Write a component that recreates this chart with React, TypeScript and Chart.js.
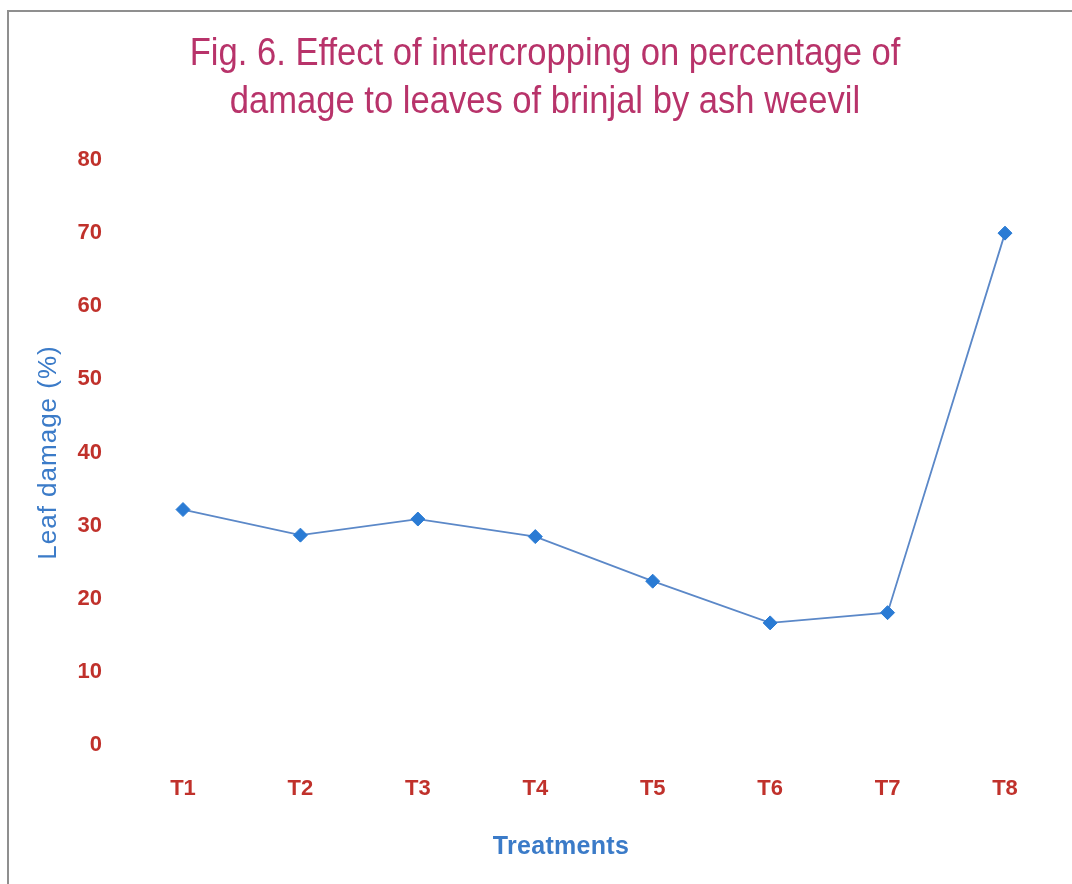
import React, { useEffect, useRef } from 'react';
import { Chart, registerables } from 'chart.js';

Chart.register(...registerables);

// Treatments and mean leaf damage (%) caused by ash weevil
const treatments = ['T1', 'T2', 'T3', 'T4', 'T5', 'T6', 'T7', 'T8'];
const leafDamage = [32.2, 28.7, 30.9, 28.5, 22.4, 16.7, 18.1, 70.0];

// Value axis range
const yMin = 0;
const yMax = 80;
const yStep = 10;

const titleLines = [
  'Fig. 6. Effect of intercropping on percentage of',
  'damage to leaves of brinjal by ash weevil',
];
const xAxisTitle = 'Treatments';
const yAxisTitle = 'Leaf damage (%)';

const WIDTH = 1072;
const HEIGHT = 884;

const TITLE_COLOR = '#b8336a';
const TICK_COLOR = '#c0312b';
const AXIS_TITLE_COLOR = '#3b7bc8';
const LINE_COLOR = '#5b88c8';
const MARKER_COLOR = '#2a7bd4';
const FONT = '"Liberation Sans", Arial, Helvetica, sans-serif';

// Draws the figure caption and the two axis captions on the canvas
const captionPlugin = {
  id: 'captions',
  afterDraw(chart: any) {
    const { ctx, chartArea } = chart;
    ctx.save();
    ctx.textAlign = 'center';
    ctx.textBaseline = 'alphabetic';

    // slightly condensed figure title, two centred lines
    ctx.fillStyle = TITLE_COLOR;
    ctx.font = `38px ${FONT}`;
    titleLines.forEach((line, i) => {
      ctx.save();
      ctx.translate(545, 65 + i * 48);
      ctx.scale(0.91, 1);
      ctx.fillText(line, 0, 0);
      ctx.restore();
    });

    // vertical axis caption
    ctx.fillStyle = AXIS_TITLE_COLOR;
    ctx.save();
    (ctx as any).letterSpacing = '1px';
    ctx.font = `26px ${FONT}`;
    ctx.translate(56, (chartArea.top + chartArea.bottom) / 2);
    ctx.rotate(-Math.PI / 2);
    ctx.fillText(yAxisTitle, 0, 0);
    ctx.restore();

    // horizontal axis caption
    ctx.save();
    (ctx as any).letterSpacing = '0.3px';
    ctx.font = `bold 25px ${FONT}`;
    ctx.fillText(xAxisTitle, 561, 854);
    ctx.restore();

    ctx.restore();
  },
};

function LeafDamageChart() {
  const canvasRef = useRef<HTMLCanvasElement>(null);

  useEffect(() => {
    const canvas = canvasRef.current;
    if (!canvas) return;
    const tickFont = { family: FONT, size: 22, weight: 'bold' as const };
    const chart = new Chart(canvas, {
      type: 'line',
      data: {
        labels: treatments,
        datasets: [
          {
            data: leafDamage,
            borderColor: LINE_COLOR,
            borderWidth: 1.8,
            tension: 0,
            fill: false,
            clip: false as any,
            pointStyle: 'rectRot',
            pointRadius: 7,
            pointBackgroundColor: MARKER_COLOR,
            pointBorderColor: MARKER_COLOR,
            pointBorderWidth: 1,
          },
        ],
      },
      options: {
        responsive: false,
        animation: false,
        devicePixelRatio: 1,
        events: [],
        layout: { padding: { top: 160, right: 67, bottom: 0, left: 0 } },
        plugins: {
          legend: { display: false },
          tooltip: { enabled: false },
          title: { display: false },
        },
        scales: {
          x: {
            type: 'category',
            offset: false,
            grid: { display: false, drawTicks: false },
            border: { display: false },
            ticks: {
              color: TICK_COLOR,
              font: tickFont,
              padding: 31,
              maxRotation: 0,
              autoSkip: false,
            },
            afterFit: (scale: any) => {
              scale.height = 139;
            },
          },
          y: {
            min: yMin,
            max: yMax,
            grid: { display: false, drawTicks: false },
            border: { display: false },
            ticks: {
              stepSize: yStep,
              color: TICK_COLOR,
              font: tickFont,
              padding: 81,
            },
            afterFit: (scale: any) => {
              scale.width = 183;
            },
          },
        },
      },
      plugins: [captionPlugin],
    });
    return () => chart.destroy();
  }, []);

  return (
    <canvas
      ref={canvasRef}
      width={WIDTH}
      height={HEIGHT}
      style={{ display: 'block', width: WIDTH, height: HEIGHT }}
    />
  );
}

export default function App() {
  return (
    <div
      style={{
        position: 'absolute',
        left: 0,
        top: 0,
        width: WIDTH,
        height: HEIGHT,
        background: '#ffffff',
        overflow: 'hidden',
      }}
    >
      <div
        style={{
          position: 'absolute',
          left: 7,
          top: 10,
          right: -10,
          bottom: -10,
          borderTop: '2px solid #8f8f8f',
          borderLeft: '2px solid #8f8f8f',
        }}
      />
      <div style={{ position: 'absolute', left: 0, top: 0 }}>
        <LeafDamageChart />
      </div>
    </div>
  );
}
